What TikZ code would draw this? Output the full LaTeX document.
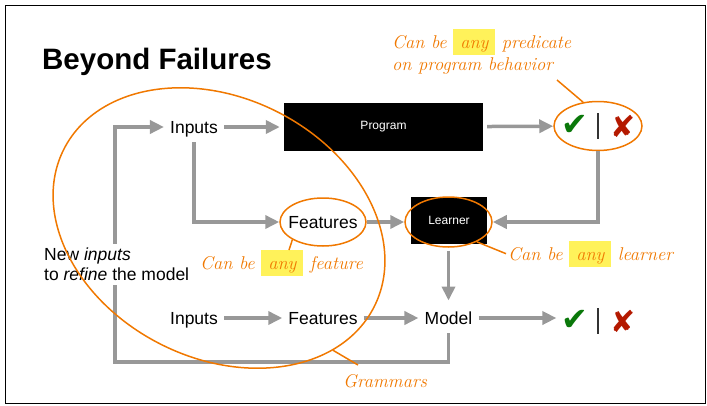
\documentclass[tikz,border=0pt]{standalone}
\usepackage{fontspec}
\setmainfont{Liberation Sans}
\newfontfamily\handfont{Latin Modern Roman}
\newfontfamily\glyphfont{DejaVu Sans}
\usetikzlibrary{positioning,arrows.meta,shapes.geometric}
\definecolor{flowgray}{RGB}{152,152,152}
\definecolor{noteorange}{RGB}{240,120,0}
\definecolor{hilite}{RGB}{255,242,90}
\definecolor{okgreen}{RGB}{10,120,10}
\definecolor{badred}{RGB}{180,25,0}
\newcommand{\hlword}[1]{{\setlength{\fboxsep}{0pt}\smash{\colorbox{hilite}{\rule[-7pt]{0pt}{26.5pt}\hspace{7pt}#1\hspace{7pt}}}}}

\begin{document}
\begin{tikzpicture}[x=1pt, y=-1pt,
    lbl/.style={font=\fontsize{17.5}{20}\selectfont, text height=12.5pt, text depth=0pt, inner xsep=6pt, inner ysep=9pt},
    blk/.style={fill=black, text=white, font=\fontsize{12}{14}\selectfont},
    arr/.style={-{Triangle[length=14pt, width=13pt]}, line width=3.5pt, draw=flowgray},
    ring/.style={draw=noteorange, line width=1.5pt, ellipse, inner sep=0pt},
    lead/.style={draw=noteorange, line width=1.5pt},
    note/.style={text=noteorange, font=\handfont\itshape\fontsize{18.5}{22}\selectfont, inner sep=2pt, align=left},
    ok/.style={text=okgreen, font=\glyphfont\fontsize{32}{32}\selectfont, inner sep=0pt},
    bad/.style={text=badred, font=\glyphfont\fontsize{30}{30}\selectfont, inner sep=0pt},
    sepbar/.style={fill=black!80, minimum width=2pt, minimum height=26pt, inner sep=0pt}
]
\useasboundingbox (0,0) rectangle (707,405);
\draw[line width=0.8pt] (5,5) rectangle (705,403);

\node[anchor=base west, font=\bfseries\fontsize{29.5}{34}\selectfont, inner sep=0pt] (title) at (42,69) {Beyond Failures};

\node[lbl] (in1) at (194,127) {Inputs};
\node[blk, minimum width=199pt, minimum height=48pt] (prog) at (383.5,127) {Program};
\node[ring, minimum width=88pt, minimum height=49pt] (judge) at (598,126) {};
\node[ok] (ok1) at (575,125) {✔};
\node[sepbar] (sep1) at (598,126) {};
\node[bad] (bad1) at (623.5,126) {✘};

\node[lbl] (feat1) at (323,222) {Features};
\node[ring, minimum width=86pt, minimum height=48pt] (fring) at (323,222) {};
\node[blk, minimum width=76pt, minimum height=47pt] (learn) at (449,220.5) {Learner};
\node[ring, minimum width=87pt, minimum height=50pt] (lring) at (448.5,222) {};

\node[lbl] (in2) at (194,318) {Inputs};
\node[lbl] (feat2) at (323,318) {Features};
\node[lbl] (model) at (448.5,318) {Model};
\node[ok] (ok2) at (575,320) {✔};
\node[sepbar] (sep2) at (598,321) {};
\node[bad] (bad2) at (623.5,321.5) {✘};

\coordinate (loopturn) at (115,362);
\draw[arr, shorten >=4pt] (in1) -- (prog);
\draw[arr, shorten <=4pt] (prog) -- (judge);
\draw[arr] (in1.south) |- (fring.west);
\draw[arr] (fring) -- (lring);
\draw[arr] (judge.south) |- (lring.east);
\draw[arr, shorten <=3pt, shorten >=2pt] (lring.south) -- (model.north);
\draw[arr] (in2) -- (feat2);
\draw[arr] (feat2) -- (model);
\draw[arr, shorten >=5pt] (model.east) -- (model.east -| ok2.west);
\draw[arr] (model.south) |- (loopturn) |- (in1.west);

\node[anchor=north west, font=\fontsize{17.5}{20}\selectfont, fill=white, align=left, inner sep=4pt] (newin) at (40,244) {New \textit{inputs}\\to \textit{refine} the model};
\node[ring, minimum width=348pt, minimum height=260pt, rotate=-27] (inring) at (219,228) {};

\node[note, anchor=base west] (predn) at (390,70) {Can be \hlword{any} predicate\\on program behavior};
\node[note, anchor=base west] (learnn) at (506,260) {Can be \hlword{any} learner};
\node[note, anchor=base west] (featn) at (198,269) {Can be \hlword{any} feature};
\node[note, anchor=base west] (gramn) at (341,387) {Grammars};

\coordinate (predfoot) at (557,80);
\coordinate (featfoot) at (289,250);
\coordinate (gramfoot) at (358,365);
\draw[lead] (judge.122) -- (predfoot);
\draw[lead] (lring.-35) -- (learnn.west);
\draw[lead] (fring.-150) -- (featfoot);
\draw[lead] (inring.-20) -- (gramfoot);
\end{tikzpicture}
\end{document}
